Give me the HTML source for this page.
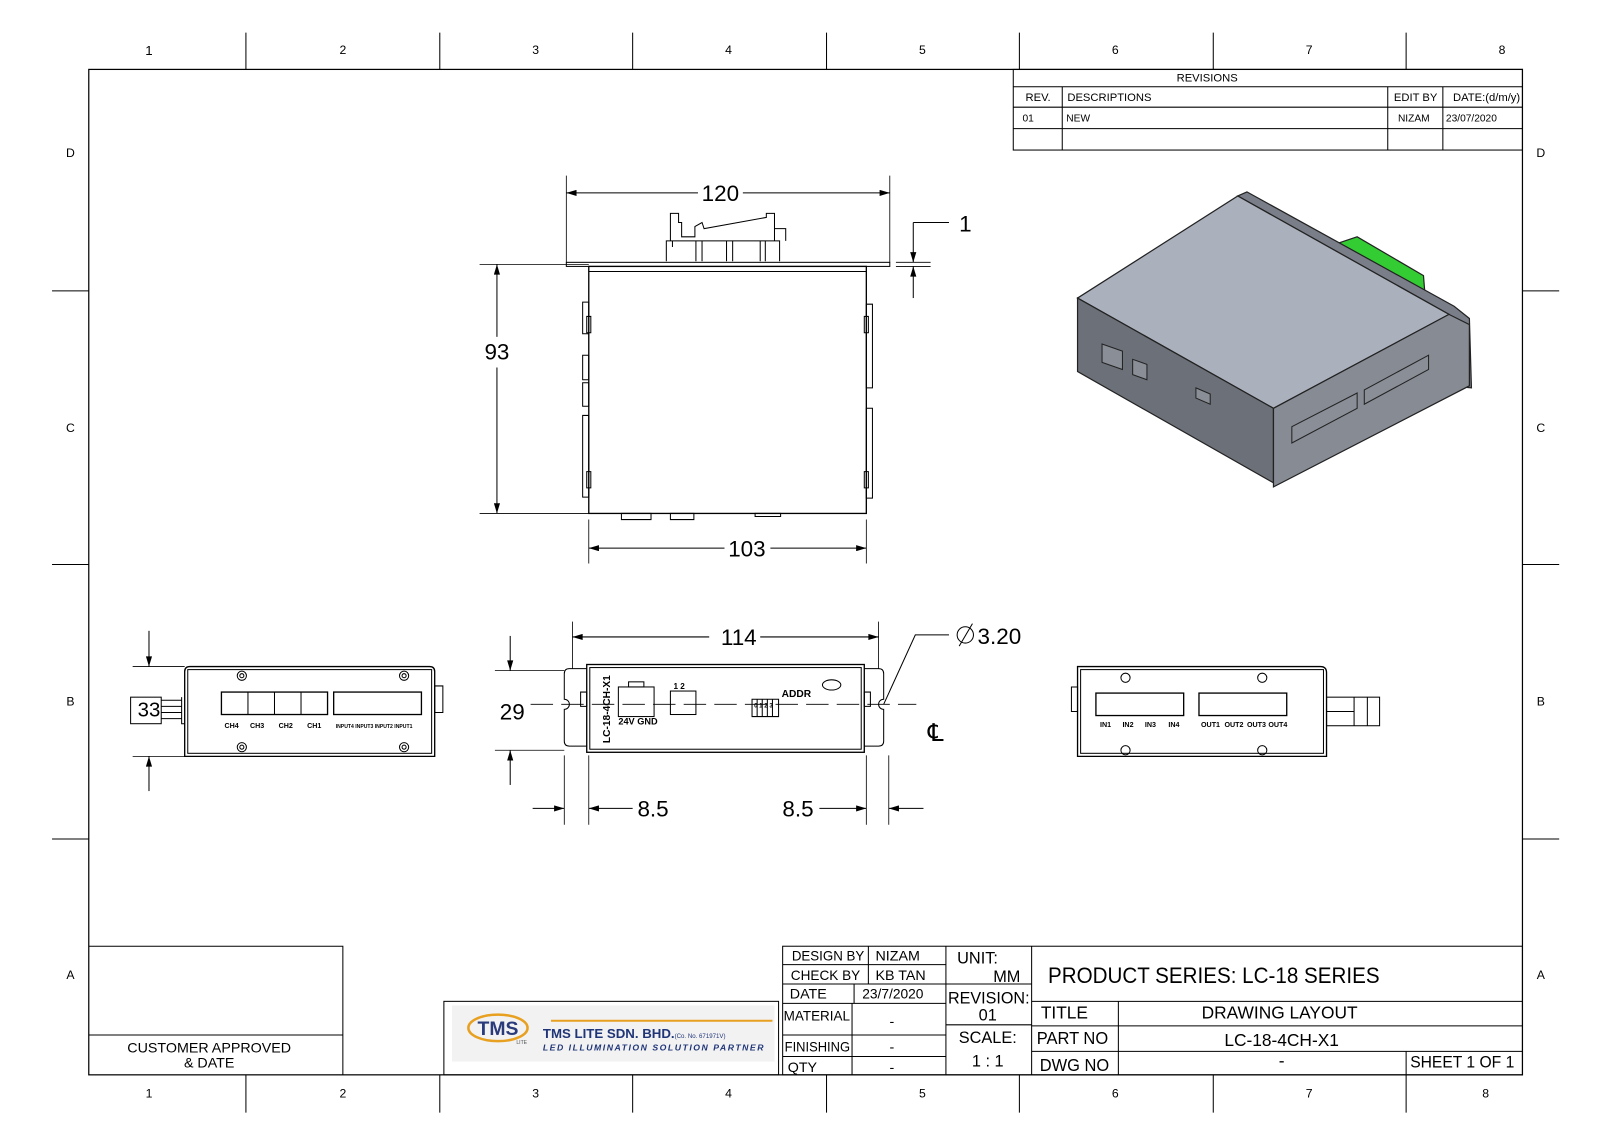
<!DOCTYPE html>
<html><head><meta charset="utf-8"><style>
html,body{margin:0;padding:0;background:#fff;}
svg{display:block;}
text{font-family:"Liberation Sans",sans-serif;fill:#000;}
</style></head><body>
<svg width="1600" height="1132" viewBox="0 0 1568 1109" preserveAspectRatio="none" xmlns="http://www.w3.org/2000/svg">
<defs>
<marker id="ar" viewBox="0 0 10 6" refX="10" refY="3" markerWidth="14" markerHeight="6" markerUnits="userSpaceOnUse" orient="auto-start-reverse"><path d="M0,0 L10,3 L0,6 z" fill="#000"/></marker>
</defs>
<rect width="1568" height="1109" fill="#fff"/>
<g stroke="#000" fill="none" stroke-width="1">
<rect x="87" y="68" width="1405" height="985" stroke-width="1.2"/>
<path d="M241,32V68M431,32V68M620,32V68M810,32V68M999,32V68M1189,32V68M1378,32V68"/>
<path d="M241,1053V1090M431,1053V1090M620,1053V1090M810,1053V1090M999,1053V1090M1189,1053V1090M1378,1053V1090"/>
<path d="M51,285H87M51,553H87M51,822H87M1492,285H1528M1492,553H1528M1492,822H1528"/>
</g>
<g font-size="12" text-anchor="middle">
<text x="146" y="54" font-size="13">1</text><text x="336" y="53">2</text><text x="525" y="53">3</text><text x="714" y="53">4</text><text x="904" y="53">5</text><text x="1093" y="53">6</text><text x="1283" y="53">7</text><text x="1472" y="53">8</text>
<text x="146" y="1075">1</text><text x="336" y="1075">2</text><text x="525" y="1075">3</text><text x="714" y="1075">4</text><text x="904" y="1075">5</text><text x="1093" y="1075">6</text><text x="1283" y="1075">7</text><text x="1456" y="1075">8</text>
<text x="69" y="154">D</text><text x="69" y="423">C</text><text x="69" y="691">B</text><text x="69" y="959">A</text>
<text x="1510" y="154">D</text><text x="1510" y="423">C</text><text x="1510" y="691">B</text><text x="1510" y="959">A</text>
</g>
<!-- revisions -->
<g stroke="#000" fill="none">
<rect x="993" y="68" width="499" height="79"/>
<path d="M993,85H1492M993,105H1492M993,126H1492M1041,85V147M1360,85V147M1414,85V147"/>
</g>
<g font-size="11">
<text x="1183" y="80" text-anchor="middle">REVISIONS</text>
<text x="1005" y="99">REV.</text><text x="1046" y="99">DESCRIPTIONS</text><text x="1366" y="99">EDIT BY</text><text x="1424" y="99">DATE:(d/m/y)</text>
<text x="1002" y="119" font-size="10">01</text><text x="1045" y="119" font-size="10">NEW</text><text x="1370" y="119" font-size="10">NIZAM</text><text x="1417" y="119" font-size="10">23/07/2020</text>
</g>
<!-- title block -->
<g stroke="#000" fill="none">
<path d="M87,927H336V1053M87,1014H336"/>
<rect x="435" y="981" width="328" height="72"/>
<rect x="767" y="927" width="725" height="126"/>
<path d="M767,945H927M767,964H927M767,983H927M767,1014H927M767,1035H927"/>
<path d="M851,927V964M837,964V983M835,983V1053M927,927V1053M1011,927V1053"/>
<path d="M927,964H1011M927,1004H1011"/>
<path d="M1011,981H1492M1011,1005H1492M1011,1030H1492M1096,981V1053M1378,1030V1053"/>
</g>
<g font-size="14">
<text x="776" y="941" textLength="71" lengthAdjust="spacingAndGlyphs">DESIGN BY</text><text x="858" y="941">NIZAM</text>
<text x="775" y="960" textLength="68" lengthAdjust="spacingAndGlyphs">CHECK BY</text><text x="858" y="960">KB TAN</text>
<text x="774" y="978">DATE</text><text x="845" y="978" textLength="60" lengthAdjust="spacingAndGlyphs">23/7/2020</text>
<text x="768" y="1000" textLength="65" lengthAdjust="spacingAndGlyphs">MATERIAL</text><text x="874" y="1005" text-anchor="middle">-</text>
<text x="769" y="1030" textLength="64" lengthAdjust="spacingAndGlyphs">FINISHING</text><text x="874" y="1030" text-anchor="middle">-</text>
<text x="772" y="1050">QTY</text><text x="874" y="1050" text-anchor="middle">-</text>
<text x="938" y="944" font-size="16">UNIT:</text><text x="1000" y="962" font-size="16" text-anchor="end">MM</text>
<text x="929" y="983" font-size="16" textLength="80" lengthAdjust="spacingAndGlyphs">REVISION:</text><text x="968" y="1000" font-size="16" text-anchor="middle">01</text>
<text x="968" y="1022" font-size="16" text-anchor="middle">SCALE:</text><text x="968" y="1045" font-size="16" text-anchor="middle">1 : 1</text>
<text x="1027" y="963" font-size="22" textLength="325" lengthAdjust="spacingAndGlyphs">PRODUCT SERIES: LC-18 SERIES</text>
<text x="1020" y="998" font-size="17">TITLE</text><text x="1254" y="998" font-size="17" text-anchor="middle">DRAWING LAYOUT</text>
<text x="1016" y="1023" font-size="17" textLength="70" lengthAdjust="spacingAndGlyphs">PART NO</text><text x="1256" y="1025" font-size="17" text-anchor="middle">LC-18-4CH-X1</text>
<text x="1019" y="1049" font-size="17" textLength="68" lengthAdjust="spacingAndGlyphs">DWG NO</text><text x="1256" y="1045" font-size="17" text-anchor="middle">-</text>
<text x="1382" y="1046" font-size="16" textLength="102" lengthAdjust="spacingAndGlyphs">SHEET 1 OF 1</text>
<text x="205" y="1031" font-size="14" text-anchor="middle">CUSTOMER APPROVED</text>
<text x="205" y="1046" font-size="14" text-anchor="middle">&amp; DATE</text>
</g>
<!-- logo -->
<rect x="443" y="985" width="316" height="55" fill="#f2f2f2"/>
<path d="M540,1000H757" stroke="#e8a020" stroke-width="2"/>
<ellipse cx="488" cy="1007" rx="29" ry="13" fill="none" stroke="#e8a020" stroke-width="2.5"/>
<text x="488" y="1014" font-size="19" font-weight="bold" text-anchor="middle" style="fill:#2a3a7a">TMS</text>
<text x="506" y="1023" font-size="5" style="fill:#555">LITE</text>
<text x="532" y="1017" font-size="13" font-weight="bold" style="fill:#1f3578">TMS LITE SDN. BHD.<tspan font-size="6" font-weight="normal">(Co. No. 671971V)</tspan></text>
<text x="532" y="1029" font-size="8.5" font-weight="bold" font-style="italic" letter-spacing="1.5" style="fill:#1f3578">LED ILLUMINATION SOLUTION PARTNER</text>

<!-- TOP VIEW -->
<g stroke="#000" fill="none" stroke-width="1">
<path d="M555,172V257M872,172V257" stroke-width="0.8"/>
<line x1="555" y1="189" x2="684" y2="189" marker-start="url(#ar)"/>
<line x1="728" y1="189" x2="872" y2="189" marker-end="url(#ar)"/>
<rect x="555" y="257" width="317" height="4"/>
<rect x="577" y="261" width="272" height="242" stroke-width="1.3"/>
<path d="M577,266H849"/>
<path d="M653,256V236H764V256M659,236V242M682,236V256M688,236V256M712,236V256M718,236V256M745,236V256M750,236V256"/>
<path d="M657,236V209H665V218H668V232H681V222L688,218L690,224L751,213V209H759V236M759,224L770,224V236"/>
<path d="M571,296h6v31h-6zM571,348h6v24h-6zM571,375h6v23h-6zM571,407h6v80h-6zM849,298h6v82h-6zM849,400h6v88h-6z"/>
<path d="M575,310h4v16h-4zM847,310h4v16h-4zM575,462h4v16h-4zM847,462h4v16h-4z"/>
<path d="M609,503h29v6h-29zM657,503h23v6h-23zM740,503h25v3h-25z"/>
<path d="M470,259H577M470,503H577" stroke-width="0.8"/>
<line x1="487" y1="330" x2="487" y2="259" marker-end="url(#ar)"/>
<line x1="487" y1="360" x2="487" y2="503" marker-end="url(#ar)"/>
<path d="M577,509V552M849,509V552" stroke-width="0.8"/>
<line x1="710" y1="537" x2="577" y2="537" marker-end="url(#ar)"/>
<line x1="755" y1="537" x2="849" y2="537" marker-end="url(#ar)"/>
<path d="M878,257H912M878,261H912" stroke-width="0.8"/>
<line x1="895" y1="218" x2="895" y2="257" marker-end="url(#ar)"/>
<line x1="895" y1="292" x2="895" y2="261" marker-end="url(#ar)"/>
<path d="M895,218H930"/>
</g>
<g font-size="22" text-anchor="middle">
<text x="706" y="197">120</text><text x="487" y="352">93</text><text x="732" y="545">103</text><text x="940" y="227" text-anchor="start">1</text>
</g>

<!-- FRONT VIEW -->
<g stroke="#000" fill="none">
<path d="M561,655H861Q866,655 866,660V685A5,5 0 0 0 866,695V726Q866,731 861,731H558Q553,731 553,726V695A5,5 0 0 0 553,685V660Q553,655 558,655Z"/>
<rect x="575" y="651" width="272" height="86" fill="#fff" stroke-width="1.3"/>
<rect x="578" y="654" width="266" height="80"/>
<path d="M569,678h6v14h-6zM847,678h6v14h-6z"/>
<path d="M520,690H898" stroke-dasharray="22,8" stroke-width="0.8"/>
<rect x="606" y="673" width="35" height="29"/><rect x="616" y="668" width="15" height="5"/>
<rect x="657" y="677" width="25" height="23"/>
<path d="M737,685h26v17h-26zM742,685v17M747,685v17M752,685v17M757,685v17"/>
<ellipse cx="815" cy="671" rx="9" ry="5"/>
<path d="M561,609V655M861,609V655" stroke-width="0.8"/>
<line x1="695" y1="624" x2="561" y2="624" marker-end="url(#ar)"/>
<line x1="745" y1="624" x2="861" y2="624" marker-end="url(#ar)"/>
<path d="M866,690L897,622H930"/>
<path d="M485,657H553M485,735H553" stroke-width="0.8"/>
<line x1="500" y1="623" x2="500" y2="657" marker-end="url(#ar)"/>
<line x1="500" y1="769" x2="500" y2="735" marker-end="url(#ar)"/>
<path d="M553,740V808M577,740V808M849,740V808M871,740V808" stroke-width="0.8"/>
<line x1="522" y1="792" x2="553" y2="792" marker-end="url(#ar)"/>
<line x1="620" y1="792" x2="577" y2="792" marker-end="url(#ar)"/>
<line x1="803" y1="792" x2="849" y2="792" marker-end="url(#ar)"/>
<line x1="905" y1="792" x2="871" y2="792" marker-end="url(#ar)"/>
<circle cx="946" cy="622" r="8"/><path d="M940,633L953,611"/>
</g>
<g font-size="22" text-anchor="middle">
<text x="724" y="632">114</text><text x="502" y="705">29</text>
<text x="640" y="800">8.5</text><text x="782" y="800">8.5</text>
<text x="958" y="631" text-anchor="start">3.20</text>
</g>
<text x="917" y="726" font-size="24" text-anchor="middle" style="font-family:'DejaVu Sans',sans-serif">℄</text>
<text x="0" y="0" font-size="10" font-weight="bold" transform="translate(598,728) rotate(-90)">LC-18-4CH-X1</text>
<text x="606" y="710" font-size="9" font-weight="bold">24V GND</text>
<text x="660" y="675" font-size="8" font-weight="bold">1  2</text>
<text x="766" y="683" font-size="10" font-weight="bold">ADDR</text>
<text x="739" y="693" font-size="6" font-weight="bold">0 1 2 3</text>

<!-- LEFT SIDE VIEW -->
<g stroke="#000" fill="none">
<path d="M186,653H421Q426,653 426,658V741H181V658Q181,653 186,653Z" stroke-width="1.3"/>
<rect x="184" y="656" width="239" height="82"/>
<path d="M426,672h8v26h-8z"/>
<rect x="128" y="683" width="30" height="26"/><path d="M158,686h20M158,692h20M158,698h20M158,704h20M178,683v26h3"/>
<rect x="217" y="678" width="104" height="22" stroke-width="1.3"/><path d="M243,678v22M269,678v22M295,678v22"/>
<rect x="327" y="678" width="86" height="22" stroke-width="1.3"/>
<circle cx="237" cy="662" r="4.5"/><circle cx="237" cy="662" r="2"/><circle cx="396" cy="662" r="4.5"/><circle cx="396" cy="662" r="2"/>
<circle cx="237" cy="732" r="4.5"/><circle cx="237" cy="732" r="2"/><circle cx="396" cy="732" r="4.5"/><circle cx="396" cy="732" r="2"/>
<path d="M130,653H181M130,741H181" stroke-width="0.8"/>
<line x1="146" y1="618" x2="146" y2="653" marker-end="url(#ar)"/>
<line x1="146" y1="775" x2="146" y2="741" marker-end="url(#ar)"/>
</g>
<text x="146" y="702" font-size="20" text-anchor="middle">33</text>
<g font-size="7" font-weight="bold"><text x="220" y="713">CH4</text><text x="245" y="713">CH3</text><text x="273" y="713">CH2</text><text x="301" y="713">CH1</text>
<text x="329" y="713" font-size="5">INPUT4  INPUT3  INPUT2  INPUT1</text></g>

<!-- RIGHT SIDE VIEW -->
<g stroke="#000" fill="none">
<path d="M1056,653H1294Q1300,653 1300,659V741H1056Z" stroke-width="1.3"/>
<rect x="1059" y="656" width="238" height="82"/>
<path d="M1050,673h6v24h-6z"/>
<rect x="1300" y="683" width="52" height="28"/><path d="M1300,697h27M1327,683v28M1340,683v28"/>
<rect x="1074" y="679" width="86" height="22" stroke-width="1.3"/>
<rect x="1175" y="679" width="86" height="22" stroke-width="1.3"/>
<circle cx="1103" cy="664" r="4.5"/><circle cx="1237" cy="664" r="4.5"/><circle cx="1103" cy="735" r="4.5"/><circle cx="1237" cy="735" r="4.5"/>
</g>
<g font-size="7" font-weight="bold"><text x="1078" y="712">IN1</text><text x="1100" y="712">IN2</text><text x="1122" y="712">IN3</text><text x="1145" y="712">IN4</text>
<text x="1177" y="712">OUT1</text><text x="1200" y="712">OUT2</text><text x="1222" y="712">OUT3</text><text x="1243" y="712">OUT4</text></g>

<!-- ISOMETRIC -->
<g stroke="#222" stroke-width="1.2">
<path d="M1312,238L1330,232L1395,270L1397,295L1383,290L1320,258Z" fill="#33cc33"/>
<path d="M1213,192L1222,188L1425,300L1440,312L1442,380L1420,378L1420,308Z" fill="#7a7e88"/>
<path d="M1056,292L1213,192L1420,308L1248,400Z" fill="#aab0bc"/>
<path d="M1056,292L1248,400L1248,473L1056,364Z" fill="#6c7078"/>
<path d="M1248,400L1420,308L1440,318L1440,378L1248,477Z" fill="#878b94"/>
<g fill="#8a8e96" stroke-width="1">
<path d="M1266,418L1330,385L1330,400L1266,434Z"/>
<path d="M1337,382L1400,348L1400,362L1337,396Z"/>
<path d="M1080,337l20,7v18l-20,-7z"/><path d="M1110,352l14,5v15l-14,-5z"/>
<path d="M1172,380l14,6v10l-14,-6z"/>
</g>
</g>
</svg>
</body></html>
